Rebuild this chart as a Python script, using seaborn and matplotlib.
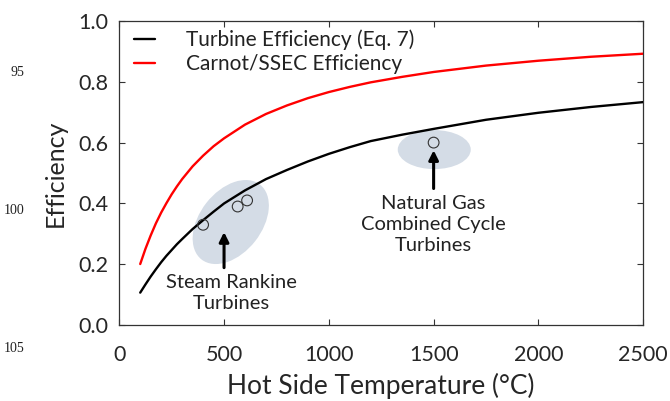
import matplotlib
matplotlib.use('Agg')
import matplotlib.pyplot as plt
import matplotlib.transforms as mtransforms
from matplotlib.patches import Ellipse
import seaborn as sns

# curve values (hot side temperature in C)
temps = [100, 125, 150, 175, 200, 225, 250, 275, 300, 350, 400, 450, 500, 600, 700, 800,
         900, 1000, 1100, 1200, 1350, 1500, 1750, 2000, 2250, 2500]
turbine_eff = [0.107, 0.134, 0.160, 0.184, 0.207, 0.228, 0.247, 0.266, 0.283, 0.316, 0.345,
               0.373, 0.400, 0.443, 0.480, 0.510, 0.538, 0.563, 0.585, 0.605, 0.626, 0.645,
               0.675, 0.698, 0.717, 0.733]
carnot_eff = [0.201, 0.251, 0.295, 0.335, 0.370, 0.401, 0.430, 0.456, 0.480, 0.522, 0.557,
              0.588, 0.614, 0.659, 0.694, 0.722, 0.746, 0.766, 0.783, 0.798, 0.816, 0.832,
              0.853, 0.869, 0.882, 0.892]

# measured plants
steam_t = [400, 565, 610]
steam_eff = [0.33, 0.39, 0.41]
ngcc_t = [1500]
ngcc_eff = [0.60]

sns.set_style('ticks')
plt.rcParams['font.family'] = ['Lato', 'DejaVu Sans']
plt.rcParams['text.color'] = '#222222'

fig = plt.figure(figsize=(6.7, 4.01), dpi=100)
ax = fig.add_axes([0.178, 0.189, 0.782, 0.759])

# shaded regions behind the points (sizes in inches)
def blob(x, y, w, h, ang):
    tr = fig.dpi_scale_trans + mtransforms.ScaledTranslation(x, y, ax.transData)
    ax.add_patch(Ellipse((0, 0), w, h, angle=ang, transform=tr,
                         facecolor='#d4dce6', edgecolor='none', zorder=1))

blob(532, 0.339, 0.95, 0.62, 52)
blob(1503, 0.577, 0.73, 0.39, 0)

sns.lineplot(x=temps, y=turbine_eff, color='black', lw=1.7, ax=ax,
             label='Turbine Efficiency (Eq. 7)', zorder=3)
sns.lineplot(x=temps, y=carnot_eff, color='#ff0000', lw=1.7, ax=ax,
             label='Carnot/SSEC Efficiency', zorder=3)

ax.scatter(steam_t + ngcc_t, steam_eff + ngcc_eff, s=60, facecolors='none',
           edgecolors='#333333', linewidths=0.8, zorder=4)

# arrows + labels
ax.annotate('', xy=(500, 0.315), xytext=(500, 0.18),
            arrowprops=dict(arrowstyle='-|>', color='black', lw=2.2, mutation_scale=14))
ax.annotate('', xy=(1500, 0.584), xytext=(1500, 0.44),
            arrowprops=dict(arrowstyle='-|>', color='black', lw=2.2, mutation_scale=14))
ax.text(535, 0.106, 'Steam Rankine\nTurbines', ha='center', va='center',
        fontsize=14.5, linespacing=1.3)
ax.text(1500, 0.331, 'Natural Gas\nCombined Cycle\nTurbines', ha='center', va='center',
        fontsize=14.5, linespacing=1.3)

ax.set_xlim(0, 2500)
ax.set_ylim(0, 1.0)
ax.set_xticks([0, 500, 1000, 1500, 2000, 2500])
ax.set_yticks([0.0, 0.2, 0.4, 0.6, 0.8, 1.0])
ax.set_yticklabels(['0.0', '0.2', '0.4', '0.6', '0.8', '1.0'])
ax.tick_params(direction='in', length=4, width=0.8, color='#333333',
               top=True, right=True, labelsize=15.5, pad=8)
ax.tick_params(axis='x', pad=14)
for s in ax.spines.values():
    s.set_visible(True)
    s.set_color('#333333')
    s.set_linewidth(0.9)

ax.set_xlabel('Hot Side Temperature (\u00b0C)', fontsize=19, labelpad=6)
ax.set_ylabel('Efficiency', fontsize=18, labelpad=8)

leg = ax.legend(loc='upper left', bbox_to_anchor=(0.0, 1.02), frameon=False,
                fontsize=15, handlelength=1.0, handletextpad=1.5, labelspacing=0.2,
                borderaxespad=0.3)
for line in leg.get_lines():
    line.set_linewidth(1.7)

# line numbers from the source document
for y, n in [(72, '95'), (210, '100'), (348, '105')]:
    fig.text(24 / 670, 1 - y / 401, n, ha='right', va='center', fontsize=10,
             family='Liberation Serif')

fig.savefig('out.png', dpi=100)
